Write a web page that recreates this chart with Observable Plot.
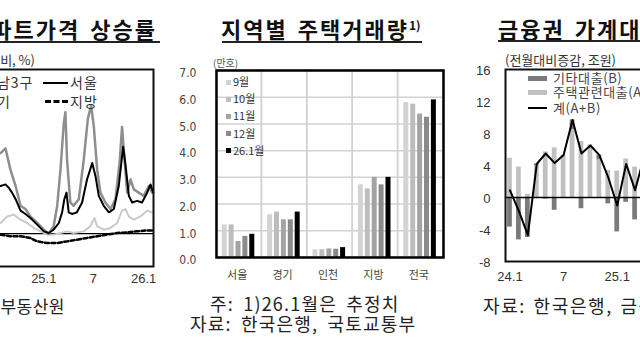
<!DOCTYPE html>
<html><head><meta charset="utf-8">
<script src="https://cdn.jsdelivr.net/npm/d3@7"></script>
<script src="https://cdn.jsdelivr.net/npm/@observablehq/plot@0.6"></script>
<style>
html,body{margin:0;padding:0;background:#fff;overflow:hidden;}
body{width:640px;height:360px;position:relative;font-family:"Noto Sans CJK KR","Noto Sans",sans-serif;color:#222;}
.abs{position:absolute;white-space:nowrap;}
.title{font-size:22px;font-weight:700;line-height:22px;color:#111;letter-spacing:2px;word-spacing:3px;}
.uline{position:absolute;height:2px;background:#222;}
.sub{font-size:13px;line-height:13px;color:#333;}
.src{font-size:18px;line-height:18px;color:#222;letter-spacing:1.2px;word-spacing:4px;}
.chart{position:absolute;}
.sw{position:absolute;}
</style></head><body>
<script>
// ---------- middle chart: 지역별 주택거래량 (만호) ----------
const regions = ["서울", "경기", "인천", "지방", "전국"];
const monthLabels = ["9월", "10월", "11월", "12월", "26.1월"];
const vol2509 = [1.22, 1.60, 0.29, 2.72, 5.80];
const vol2510 = [1.22, 1.70, 0.29, 2.57, 5.74];
const vol2511 = [0.60, 1.41, 0.32, 3.00, 5.37];
const vol2512 = [0.79, 1.41, 0.31, 2.72, 5.25];
const vol2601 = [0.87, 1.70, 0.37, 3.00, 5.90];
const volTicks = [0, 1, 2, 3, 4, 5, 6, 7];

// ---------- left chart: 아파트가격 상승률 (weekly, %) ----------
const gangnam3 = [["2024-07-27",0.49],["2024-08-14",0.52],["2024-09-01",0.39],["2024-09-20",0.29],["2024-10-08",0.17],["2024-10-26",0.15],["2024-11-13",0.105],["2024-12-08",0.065],["2025-01-01",0.024],["2025-01-19",0.0],["2025-02-06",0.045],["2025-02-19",0.17],["2025-03-03",0.39],["2025-03-15",0.67],["2025-03-21",0.74],["2025-03-27",0.45],["2025-04-08",0.19],["2025-04-20",0.17],["2025-05-09",0.21],["2025-05-27",0.45],["2025-06-11",0.70],["2025-06-23",0.78],["2025-07-03",0.65],["2025-07-15",0.39],["2025-07-27",0.25],["2025-08-14",0.19],["2025-09-02",0.15],["2025-09-20",0.21],["2025-10-06",0.45],["2025-10-14",0.65],["2025-10-23",0.45],["2025-11-02",0.25],["2025-11-14",0.33],["2025-11-26",0.27],["2025-12-14",0.25],["2026-01-01",0.23],["2026-01-20",0.29],["2026-02-01",0.25]];
const seoul = [["2024-07-27",0.29],["2024-08-14",0.30],["2024-08-26",0.28],["2024-09-07",0.25],["2024-09-20",0.21],["2024-10-08",0.14],["2024-10-26",0.12],["2024-11-13",0.095],["2024-12-08",0.055],["2025-01-01",0.014],["2025-01-19",0.004],["2025-02-06",0.024],["2025-02-25",0.065],["2025-03-09",0.13],["2025-03-17",0.21],["2025-03-25",0.25],["2025-04-02",0.13],["2025-04-14",0.12],["2025-05-02",0.13],["2025-05-21",0.19],["2025-06-08",0.33],["2025-06-27",0.43],["2025-07-09",0.35],["2025-07-21",0.23],["2025-08-08",0.17],["2025-08-27",0.13],["2025-09-14",0.15],["2025-10-02",0.29],["2025-10-18",0.53],["2025-10-26",0.43],["2025-11-08",0.23],["2025-11-20",0.19],["2025-12-08",0.20],["2025-12-26",0.19],["2026-01-14",0.25],["2026-01-26",0.30],["2026-02-05",0.25]];
const gyeonggi = [["2024-07-27",0.065],["2024-08-20",0.105],["2024-09-13",0.116],["2024-10-08",0.085],["2024-11-01",0.065],["2024-11-25",0.035],["2024-12-20",0.014],["2025-01-13",-0.006],["2025-02-06",-0.006],["2025-03-03",0.004],["2025-03-27",0.014],["2025-04-20",0.004],["2025-05-27",0.014],["2025-06-20",0.045],["2025-07-05",0.095],["2025-07-15",0.045],["2025-08-08",0.024],["2025-09-02",0.035],["2025-09-26",0.065],["2025-10-14",0.14],["2025-10-26",0.15],["2025-11-08",0.105],["2025-11-26",0.085],["2025-12-20",0.105],["2026-01-14",0.14],["2026-02-01",0.13]];
const provinces = [["2024-07-27",-0.006],["2024-09-01",-0.016],["2024-10-08",-0.016],["2024-11-13",-0.026],["2024-12-08",-0.047],["2025-01-13",-0.057],["2025-02-19",-0.057],["2025-03-27",-0.047],["2025-05-02",-0.037],["2025-06-08",-0.026],["2025-07-15",-0.016],["2025-08-20",-0.006],["2025-09-26",0.004],["2025-11-02",0.008],["2025-12-08",0.014],["2026-01-14",0.02],["2026-02-05",0.02]];
const priceTickDates = ["2024-01-01", "2024-07-01", "2025-01-01", "2025-07-01", "2026-01-01"];
const priceTickText = ["24.1", "7", "25.1", "7", "26.1"];

// ---------- right chart: 금융권 가계대출 (전월대비증감, 조원) ----------
const loanMonths = ["24.1","24.2","24.3","24.4","24.5","24.6","24.7","24.8","24.9","24.10","24.11","24.12","25.1","25.2","25.3","25.4"];
const housingLoans = [4.9, 3.8, 0.4, 4.0, 5.7, 6.2, 5.3, 8.5, 7.0, 6.6, 4.7, 3.4, 3.3, 4.8, 3.8, 4.5];
const otherLoans = [-3.7, -5.3, -5.0, 0.2, -0.2, -1.6, 0.0, 1.2, -1.4, -0.1, 0.6, -0.8, -4.3, -0.6, -2.8, 0.5];
const totalLoans = [0.9, -1.7, -4.7, 4.2, 5.5, 4.3, 5.3, 9.7, 5.5, 6.5, 5.3, 2.5, -1.0, 4.2, 0.9, 5.1];
const loanTicks = [-8, -4, 0, 4, 8, 12, 16];
const loanTickMonths = ["24.1", "24.7", "25.1"];
const loanTickText = ["24.1", "7", "25.1"];
</script>

<!-- titles -->
<div class="abs title" style="right:483px;top:17px;">아파트가격 상승률</div>
<div class="uline" style="left:-40px;top:41px;width:200px;"></div>
<div class="abs title" style="left:221px;top:17px;">지역별 주택거래량<span style="font-size:12px;position:relative;top:-8px;letter-spacing:0;">1)</span></div>
<div class="uline" style="left:222px;top:41px;width:200px;"></div>
<div class="abs title" style="left:498px;top:17px;">금융권 가계대출</div>
<div class="uline" style="left:498px;top:40px;width:160px;"></div>

<!-- subtitles -->
<div class="abs sub" style="right:605px;top:53px;">(전주대비, %)</div>
<div class="abs sub" style="left:505px;top:53px;">(전월대비증감, 조원)</div>
<div class="abs" style="left:213px;top:58px;font-size:10px;line-height:10px;color:#555;">(만호)</div>

<div id="left" class="chart" style="left:-100px;top:50px;width:260px;height:250px;"></div>
<div id="mid" class="chart" style="left:180px;top:50px;width:270px;height:240px;"></div>
<div id="right" class="chart" style="left:440px;top:50px;width:214px;height:240px;"></div>

<!-- left legend -->
<div class="sw" style="left:-45px;top:81px;width:24px;height:3px;background:#8e8e8e;"></div>
<div class="abs" style="left:-17px;top:75px;font-size:14px;line-height:14px;letter-spacing:1px;color:#333;">강남3구</div>
<div class="sw" style="left:43px;top:82px;width:25px;height:2px;background:#000;"></div>
<div class="abs" style="left:70px;top:75px;font-size:14px;line-height:14px;letter-spacing:1px;color:#333;">서울</div>
<div class="sw" style="left:-45px;top:100px;width:24px;height:3px;background:#cacaca;"></div>
<div class="abs" style="left:-17px;top:94px;font-size:14px;line-height:14px;letter-spacing:1px;color:#333;">경기</div>
<div class="sw" style="left:45px;top:100px;width:23px;height:0;border-top:3px dashed #000;"></div>
<div class="abs" style="left:70px;top:94px;font-size:14px;line-height:14px;letter-spacing:1px;color:#333;">지방</div>

<!-- middle legend -->
<div id="midLegend"></div>

<!-- right legend -->
<div class="sw" style="left:528px;top:76px;width:19px;height:5px;background:#7a7a7a;"></div>
<div class="abs" style="left:553px;top:72px;font-size:13px;line-height:12px;letter-spacing:0.6px;color:#444;">기타대출(B)</div>
<div class="sw" style="left:528px;top:90px;width:19px;height:5px;background:#c0c0c0;"></div>
<div class="abs" style="left:553px;top:86px;font-size:13px;line-height:12px;letter-spacing:0.6px;color:#444;">주택관련대출(A)</div>
<div class="sw" style="left:528px;top:107px;width:19px;height:2px;background:#000;"></div>
<div class="abs" style="left:553px;top:102px;font-size:13px;line-height:12px;letter-spacing:0.6px;color:#444;">계(A+B)</div>

<!-- sources -->
<div class="abs src" style="right:575px;top:297px;font-size:17px;letter-spacing:0.5px;word-spacing:0;">자료: 한국부동산원</div>
<div class="abs src" style="left:210px;top:294px;">주: 1)26.1월은 추정치</div>
<div class="abs src" style="left:190px;top:314px;">자료: 한국은행, 국토교통부</div>
<div class="abs src" style="left:483px;top:296px;letter-spacing:1.6px;word-spacing:2px;">자료: 한국은행, 금융위원회</div>

<script>
const numFont = "'Liberation Sans', Arial, sans-serif";
const narrowFont = "'Liberation Sans Narrow', 'DejaVu Sans Condensed', 'Liberation Sans', sans-serif";
const korFont = "'Noto Sans CJK KR', sans-serif";

// ===== left chart =====
const parse = d3.utcParse("%Y-%m-%d");
const toPts = (arr) => arr.map(([d, v]) => ({date: parse(d), value: v}));
const leftPlot = Plot.plot({
  width: 260, height: 250,
  marginLeft: 18, marginRight: 7, marginTop: 19, marginBottom: 34,
  x: {type: "utc", domain: [parse("2023-10-01"), parse("2026-02-06")], axis: null},
  y: {domain: [-0.2, 1.0], axis: null},
  style: {background: "transparent", overflow: "visible"},
  marks: [
    Plot.ruleY([0], {stroke: "#000", strokeWidth: 1.2}),
    Plot.line(toPts(gyeonggi), {x: "date", y: "value", stroke: "#cacaca", strokeWidth: 2}),
    Plot.line(toPts(provinces), {x: "date", y: "value", stroke: "#000", strokeWidth: 2.5, strokeDasharray: "4,2.5"}),
    Plot.line(toPts(gangnam3), {x: "date", y: "value", stroke: "#8e8e8e", strokeWidth: 2.5}),
    Plot.line(toPts(seoul), {x: "date", y: "value", stroke: "#000", strokeWidth: 2}),
    Plot.frame({stroke: "#111", strokeWidth: 2}),
    Plot.text(priceTickDates, {x: d => parse(d), frameAnchor: "bottom", dy: 16, text: (d, i) => priceTickText[i], fontSize: 13, fontFamily: numFont, fill: "#333"})
  ]
});
document.getElementById("left").appendChild(leftPlot);

// ===== middle chart =====
const volSeries = [vol2509, vol2510, vol2511, vol2512, vol2601];
const monthColors = ["#d3d3d3", "#bdbdbd", "#a3a3a3", "#8a8a8a", "#000000"];
const MW = 270, MML = 36, MMR = 7;
const bandW = (MW - MML - MMR) / regions.length;
const barMarks = volSeries.map((vals, k) => {
  const rows = regions.map((r, j) => ({region: r, value: vals[j]}));
  const left = 5.7 + 6.9 * k;
  return Plot.barY(rows, {x: "region", y: "value", fill: monthColors[k], insetLeft: left, insetRight: bandW - left - 5});
});
const midPlot = Plot.plot({
  width: MW, height: 240,
  marginLeft: MML, marginRight: MMR, marginTop: 20, marginBottom: 33,
  x: {type: "band", domain: regions, padding: 0, round: false, axis: null},
  y: {domain: [0, 7], axis: null},
  style: {background: "transparent", overflow: "visible"},
  marks: [
    Plot.ruleY(volTicks, {stroke: "#d2d2d2", strokeWidth: 1.5}),
    Plot.barY(regions, {x: d => d, y1: 0, y2: 7, fill: "none", stroke: "#d2d2d2", strokeWidth: 1.5}),
    ...barMarks,
    Plot.frame({stroke: "#000", strokeWidth: 2.5}),
    Plot.text(volTicks, {y: d => d, frameAnchor: "left", dx: -20, dy: 3, textAnchor: "end", text: d => d3.format(".1f")(d), fontSize: 12, fontFamily: narrowFont, fill: "#444"}),
    Plot.text(regions, {x: d => d, frameAnchor: "bottom", dy: 21, dx: -2, text: d => d, fontSize: 11, fontFamily: korFont, fill: "#444"})
  ]
});
document.getElementById("mid").appendChild(midPlot);

// middle legend (HTML)
const lg = document.getElementById("midLegend");
monthLabels.forEach((m, k) => {
  const cy = 82 + 17.2 * k;
  const sq = document.createElement("div");
  sq.className = "sw";
  sq.style.cssText = `left:226px;top:${cy - 2.5}px;width:5px;height:5px;background:${monthColors[k]};`;
  lg.appendChild(sq);
  const t = document.createElement("div");
  t.className = "abs";
  t.style.cssText = `left:233px;top:${cy - 6}px;font-size:11px;line-height:11px;color:#333;`;
  t.textContent = m;
  lg.appendChild(t);
});

// ===== right chart =====
const loanRows = [];
loanMonths.forEach((m, i) => {
  loanRows.push({month: m, series: "A", value: housingLoans[i]});
  loanRows.push({month: m, series: "B", value: otherLoans[i]});
});
const rightPlot = Plot.plot({
  width: 214, height: 240,
  marginLeft: 65, marginRight: 6, marginTop: 19, marginBottom: 29,
  x: {type: "band", domain: loanMonths, paddingInner: 0.47, paddingOuter: 0.235, round: false, axis: null},
  y: {domain: [-8, 16], axis: null},
  color: {domain: ["A", "B"], range: ["#c0c0c0", "#7a7a7a"]},
  style: {background: "transparent", overflow: "visible"},
  marks: [
    Plot.barY(loanRows, {x: "month", y: "value", fill: "series"}),
    Plot.ruleY([0], {stroke: "#000", strokeWidth: 1.5}),
    Plot.line(loanMonths, {x: d => d, y: (d, i) => totalLoans[i], stroke: "#000", strokeWidth: 2}),
    Plot.frame({stroke: "#111", strokeWidth: 2}),
    Plot.text(loanTicks, {y: d => d, frameAnchor: "left", dx: -15, dy: 1, textAnchor: "end", text: d => String(d), fontSize: 13, fontFamily: numFont, fill: "#333"}),
    Plot.text(loanTickMonths, {x: d => d, frameAnchor: "bottom", dy: 19, text: (d, i) => loanTickText[i], fontSize: 13, fontFamily: numFont, fill: "#333"})
  ]
});
document.getElementById("right").appendChild(rightPlot);
</script>
</body></html>
